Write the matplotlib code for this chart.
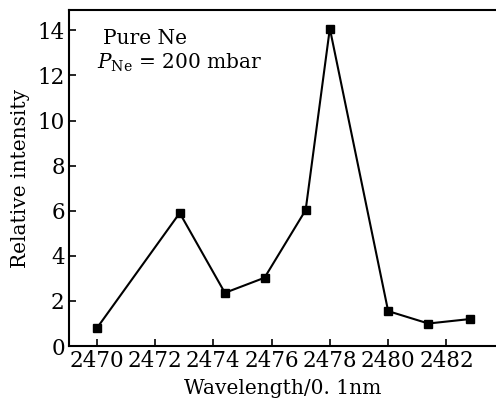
import matplotlib
matplotlib.use("Agg")
import matplotlib.pyplot as plt

wavelength = [2470.0, 2472.85, 2474.4, 2475.76, 2477.17, 2478.0, 2480.0, 2481.38, 2482.82]
intensity = [0.78, 5.9, 2.36, 3.03, 6.03, 14.08, 1.55, 1.0, 1.2]
xticks = [2470, 2472, 2474, 2476, 2478, 2480, 2482]
yticks = [0, 2, 4, 6, 8, 10, 12, 14]

plt.rcParams['font.family'] = ['DejaVu Serif']
plt.rcParams['mathtext.fontset'] = 'dejavuserif'

fig = plt.figure(figsize=(4.96, 4.01), dpi=100)
ax = fig.add_axes([0.139, 0.137, 0.861, 0.838])
ax.plot(wavelength, intensity, color='black', lw=1.5, marker='s', ms=6,
        mfc='black', mec='black')
ax.set_xlim(2469.05, 2483.7)
ax.set_ylim(0, 14.9)
ax.set_xticks(xticks)
ax.set_yticks(yticks)
ax.set_xticklabels([str(t) for t in xticks], fontsize=15.5)
ax.set_yticklabels([str(t) for t in yticks], fontsize=15.5)
ax.tick_params(direction='in', length=5, width=1.2, top=False, right=False, pad=3)
for s in ['left', 'bottom', 'top']:
    ax.spines[s].set_linewidth(1.5)
ax.spines['right'].set_visible(False)
ax.set_xlabel('Wavelength/0. 1nm', fontsize=14.5, labelpad=5)
ax.set_ylabel('Relative intensity', fontsize=14.5, labelpad=5)
ax.text(0.080, 0.914, 'Pure Ne', transform=ax.transAxes, fontsize=14.5, va='center')
ax.text(0.066, 0.842, r'$P_{\mathrm{Ne}}$ = 200 mbar', transform=ax.transAxes,
        fontsize=14.5, va='center')
fig.savefig('out.png', dpi=100)
